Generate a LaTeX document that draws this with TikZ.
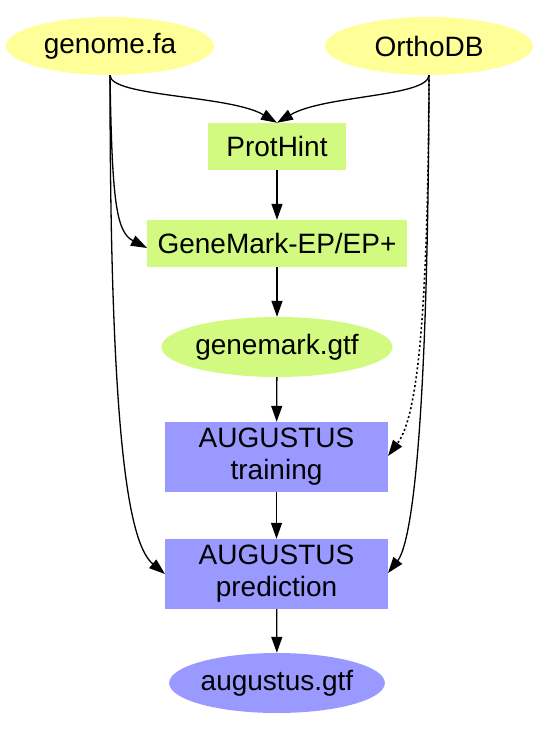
\documentclass[tikz,border=0pt]{standalone}
\usepackage{fontspec}
\setmainfont{Liberation Sans}
\usetikzlibrary{arrows.meta,shapes.geometric}
\definecolor{cyellow}{RGB}{255,255,153}
\definecolor{cgreen}{RGB}{210,250,128}
\definecolor{cblue}{RGB}{153,153,255}
\tikzset{
  lbl/.style={font=\fontsize{28}{32}\selectfont, text=black, inner sep=0pt, align=center},
  inell/.style={lbl, ellipse, fill=cyellow, minimum width=208pt, minimum height=58pt},
  greenbox/.style={lbl, rectangle, fill=cgreen, minimum height=47pt},
  greenell/.style={lbl, ellipse, fill=cgreen, minimum width=209pt, minimum height=60pt},
  bluebox/.style={lbl, rectangle, fill=cblue, minimum width=223pt, minimum height=70pt},
  blueell/.style={lbl, ellipse, fill=cblue, minimum width=208pt, minimum height=60pt},
  conn/.style={line width=1.3pt, -{Triangle[length=16pt,width=11pt]}},
  dotconn/.style={conn, line width=1.6pt, dash pattern=on 2pt off 2.5pt}
}
\begin{document}
\begin{tikzpicture}[x=1pt,y=-1pt]
\useasboundingbox (0,0) rectangle (546,734);
\node[inell] (genome) at (110,46) {genome.fa};
\node[inell] (ortho) at (429,46) {OrthoDB};
\node[greenbox, minimum width=138pt] (prothint) at (277,146.5) {ProtHint};
\node[greenbox, minimum width=260pt] (genemark) at (277,243.5) {GeneMark-EP/EP+};
\node[greenell] (gmgtf) at (277,347) {genemark.gtf};
\node[bluebox] (train) at (276.5,457) {AUGUSTUS\\training};
\node[bluebox] (pred) at (276.5,574) {AUGUSTUS\\prediction};
\node[blueell] (augtf) at (277,683) {augustus.gtf};

\coordinate (gmleft) at (147,248);
\coordinate (predleft) at (165,574);
\coordinate (trainright) at (388,456);
\coordinate (predright) at (388,573);

\draw[conn] (genome.south) .. controls (110,97) and (230,95) .. (prothint.north);
\draw[conn] (ortho.south) .. controls (428,97) and (324,95) .. (prothint.north);
\draw[conn] (prothint) -- (genemark);
\draw[conn] (genome.south) .. controls (112,200) and (116,232) .. (gmleft);
\draw[conn] (genome.south) .. controls (110,450) and (130,545) .. (predleft);
\draw[dotconn] (ortho.south) .. controls (428,340) and (415,420) .. (trainright);
\draw[conn] (ortho.south) .. controls (428,450) and (410,545) .. (predright);
\draw[conn] (genemark) -- (gmgtf);
\draw[conn] (gmgtf) -- (train);
\draw[conn] (train) -- (pred);
\draw[conn] (pred) -- (augtf);
\end{tikzpicture}
\end{document}
